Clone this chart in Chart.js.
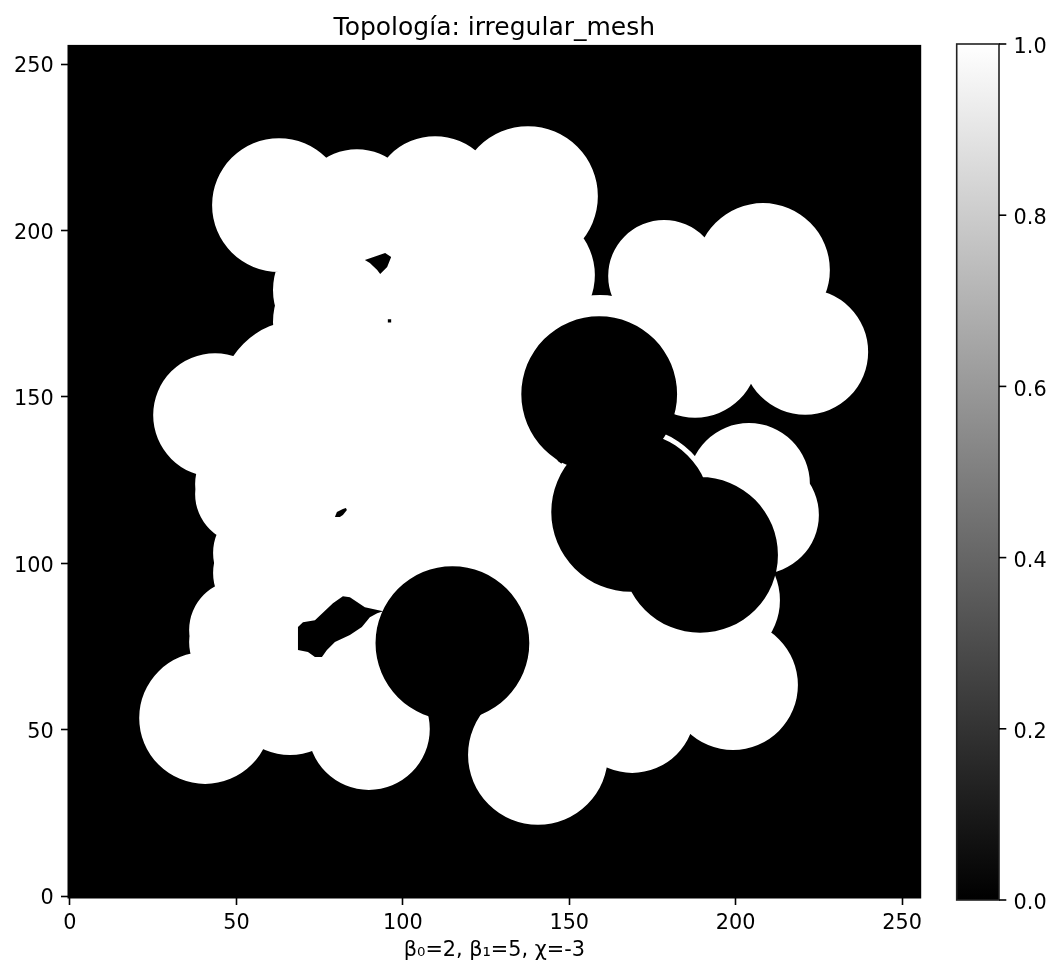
<!DOCTYPE html>
<html>
<head>
<meta charset="utf-8">
<script src="https://cdn.jsdelivr.net/npm/chart.js@4.4.1/dist/chart.umd.min.js"></script>
<style>
html,body{margin:0;padding:0;background:#fff;}
#wrap{width:1062px;height:975px;position:relative;}
canvas{display:block;}
</style>
</head>
<body>
<div id="wrap"><canvas id="c" width="1062" height="975"></canvas></div>
<script>
// ---------- text ----------
const TITLE = 'Topología: irregular_mesh';
const X_LABEL = 'β₀=2, β₁=5, χ=-3';

// ---------- tick labels ----------
const X_TICKS = [0, 50, 100, 150, 200, 250];
const Y_TICKS = [0, 50, 100, 150, 200, 250];
const CB_TICKS = [0.0, 0.2, 0.4, 0.6, 0.8, 1.0];
const IMG_MIN = -0.5;
const IMG_MAX = 255.5;

// ---------- white disks (value 1.0): centre x, centre y, radius (in image pixels) ----------
const WHITE_X = [62.8, 86.2, 109.7, 137.6, 138.2, 81.1, 82.6, 69.1, 43.6, 52.6, 52.6, 58.0, 58.0, 50.8, 50.8,
                 40.6, 66.1, 89.8, 140.6, 168.9, 199.2, 193.8, 168.6, 204.0, 207.3, 178.5, 208.2, 220.9, 187.8, 159.3,
                 105.2, 117.2, 99.2, 135.2, 135.2, 78.1,
                 78.1, 99.2, 123.2, 75.1, 87.1, 147.2, 72.1, 129.2, 111.2, 57.1, 55.6, 147.2, 168.3];
const WHITE_Y = [207.6, 206.4, 209.1, 210.3, 186.6, 182.1, 172.5, 149.0, 144.5, 123.8, 120.8, 103.1, 97.1, 79.9, 76.3,
                 53.5, 61.9, 50.2, 42.4, 55.9, 63.4, 88.9, 115.4, 123.8, 114.5, 186.3, 188.1, 163.5, 162.6, 158.1,
                 179.1, 143.0, 113.0, 113.0, 76.9, 88.9,
                 140.0, 134.0, 170.1, 107.0, 73.9, 64.9, 182.1, 119.0, 113.0, 131.0, 90.4, 91.9, 79.9];
const WHITE_R = [20.1, 18.0, 19.2, 21.0, 19.5, 20.1, 21.6, 24.0, 18.6, 15.0, 15.0, 15.0, 15.0, 15.0, 15.0,
                 19.8, 19.5, 18.3, 21.0, 18.9, 19.5, 19.5, 25.5, 18.3, 17.7, 16.8, 20.1, 18.9, 18.9, 22.5,
                 27.0, 30.0, 27.0, 21.0, 21.0, 21.0,
                 27.0, 27.0, 24.0, 18.0, 12.0, 13.5, 10.5, 21.0, 18.0, 15.0, 10.5, 14.4, 16.5];

// ---------- black disks (value 0.0) cut out of the white ----------
const BLACK_X = [159.0, 168.6, 189.3, 114.9];
const BLACK_Y = [150.8, 115.4, 102.5, 76.0];
const BLACK_R = [23.4, 24.0, 23.4, 23.1];

// ---------- small enclosed holes (value 0.0) ----------
const HOLE1_X = [88.6, 94.7, 96.5, 95.3, 93.2, 92.3, 90.1];
const HOLE1_Y = [191.1, 193.2, 192.0, 189.0, 186.9, 188.1, 190.2];
const HOLE2_X = [95.5, 96.5, 96.5, 95.5];
const HOLE2_Y = [172.3, 172.3, 173.3, 173.3];
const HOLE3_X = [80.2, 82.0, 82.9, 83.2, 82.0, 81.1, 79.6];
const HOLE3_Y = [115.4, 116.3, 116.6, 116.0, 114.5, 113.9, 113.9];
const HOLE4_X = [68.5, 70.0, 73.6, 79.0, 82.0, 84.1, 88.6, 94.1, 92.3, 90.1, 87.7, 84.1, 79.6, 77.2, 75.7, 73.6, 71.5, 68.5];
const HOLE4_Y = [80.8, 82.3, 82.9, 88.0, 90.1, 89.8, 86.8, 85.6, 85.0, 83.8, 80.8, 78.4, 76.3, 73.9, 71.8, 71.8, 73.3, 73.9];
const HOLES = [[HOLE1_X, HOLE1_Y], [HOLE2_X, HOLE2_Y], [HOLE3_X, HOLE3_Y], [HOLE4_X, HOLE4_Y]];

// ---------- layout (not data) ----------
const W = 1062, H = 975;
const AREA = {left: 68.3, right: 920.4, top: 45.7, bottom: 897.7};
const CBAR = {left: 956.7, right: 999, top: 44, bottom: 900};
const FONT = 'DejaVu Sans';
const TICK_SIZE = 20.8;
const SPINE = 1.6;
const TICK_LEN = 7.3;

const imagePlugin = {
  id: 'binaryImage',
  beforeDatasetsDraw(chart) {
    const {ctx, scales: {x, y}} = chart;
    const l = x.getPixelForValue(IMG_MIN), r = x.getPixelForValue(IMG_MAX);
    const t = y.getPixelForValue(IMG_MAX), b = y.getPixelForValue(IMG_MIN);
    const ppu = Math.abs(x.getPixelForValue(1) - x.getPixelForValue(0));
    ctx.save();
    ctx.beginPath();
    ctx.rect(l, t, r - l, b - t);
    ctx.clip();
    ctx.fillStyle = '#000000';
    ctx.fillRect(l, t, r - l, b - t);
    // white disks = 1 (one path so the union has no seams)
    ctx.fillStyle = '#ffffff';
    ctx.beginPath();
    WHITE_X.forEach((cx, i) => {
      const px = x.getPixelForValue(cx), py = y.getPixelForValue(WHITE_Y[i]);
      ctx.moveTo(px + WHITE_R[i] * ppu, py);
      ctx.arc(px, py, WHITE_R[i] * ppu, 0, Math.PI * 2);
    });
    ctx.fill('nonzero');
    // black disks = 0
    ctx.fillStyle = '#000000';
    ctx.beginPath();
    BLACK_X.forEach((cx, i) => {
      const px = x.getPixelForValue(cx), py = y.getPixelForValue(BLACK_Y[i]);
      ctx.moveTo(px + BLACK_R[i] * ppu, py);
      ctx.arc(px, py, BLACK_R[i] * ppu, 0, Math.PI * 2);
    });
    ctx.fill('nonzero');
    // small holes = 0
    for (const [hx, hy] of HOLES) {
      ctx.beginPath();
      hx.forEach((v, i) => {
        const px = x.getPixelForValue(v), py = y.getPixelForValue(hy[i]);
        if (i === 0) ctx.moveTo(px, py); else ctx.lineTo(px, py);
      });
      ctx.closePath();
      ctx.fill();
    }
    ctx.restore();
  }
};

const frameAndColorbar = {
  id: 'frameAndColorbar',
  afterDraw(chart) {
    const {ctx, chartArea: a} = chart;
    ctx.save();
    ctx.strokeStyle = '#000';
    ctx.lineWidth = SPINE;
    ctx.strokeRect(a.left, a.top, a.right - a.left, a.bottom - a.top);

    const g = ctx.createLinearGradient(0, CBAR.bottom, 0, CBAR.top);
    g.addColorStop(0, '#000000');
    g.addColorStop(1, '#ffffff');
    ctx.fillStyle = g;
    ctx.fillRect(CBAR.left, CBAR.top, CBAR.right - CBAR.left, CBAR.bottom - CBAR.top);
    ctx.strokeStyle = '#222';
    ctx.lineWidth = SPINE;
    ctx.strokeRect(CBAR.left, CBAR.top, CBAR.right - CBAR.left, CBAR.bottom - CBAR.top);

    ctx.fillStyle = '#000';
    ctx.strokeStyle = '#000';
    ctx.font = TICK_SIZE + 'px "' + FONT + '"';
    ctx.textAlign = 'left';
    ctx.textBaseline = 'alphabetic';
    for (const v of CB_TICKS) {
      const py = CBAR.bottom - v * (CBAR.bottom - CBAR.top);
      ctx.beginPath();
      ctx.moveTo(CBAR.right, py);
      ctx.lineTo(CBAR.right + TICK_LEN, py);
      ctx.stroke();
      ctx.fillText(v.toFixed(1), CBAR.right + TICK_LEN + 7.3, py + 9.2);
    }
    ctx.restore();
  }
};

const tickFont = {family: FONT, size: TICK_SIZE};

new Chart(document.getElementById('c').getContext('2d'), {
  type: 'scatter',
  data: {datasets: []},
  options: {
    responsive: false,
    animation: false,
    devicePixelRatio: 1,
    events: [],
    layout: {padding: {left: 0, top: 0, right: W - AREA.right, bottom: 0}},
    plugins: {
      legend: {display: false},
      tooltip: {enabled: false},
      title: {
        display: true,
        text: TITLE,
        fullSize: false,
        color: '#000',
        font: {family: FONT, size: 25, weight: 'normal', lineHeight: 1.2},
        padding: {top: 13.4, bottom: 2.3}
      }
    },
    scales: {
      x: {
        type: 'linear',
        min: IMG_MIN,
        max: IMG_MAX,
        afterBuildTicks: (s) => { s.ticks = X_TICKS.map(v => ({value: v})); },
        afterFit: (s) => { s.height = H - AREA.bottom; },
        ticks: {font: tickFont, color: '#000', padding: 6.5, maxRotation: 0, autoSkip: false,
                callback: (v) => String(v)},
        grid: {display: true, drawOnChartArea: false, drawTicks: true, tickLength: TICK_LEN,
               tickWidth: SPINE, tickColor: '#000'},
        border: {display: false},
        title: {display: true, text: X_LABEL, color: '#000',
                font: {family: FONT, size: TICK_SIZE, lineHeight: 1.2},
                padding: {top: 0, bottom: 12.4}}
      },
      y: {
        type: 'linear',
        min: IMG_MIN,
        max: IMG_MAX,
        afterBuildTicks: (s) => { s.ticks = Y_TICKS.map(v => ({value: v})); },
        afterFit: (s) => { s.width = AREA.left; },
        ticks: {font: tickFont, color: '#000', padding: 7.3, labelOffset: 3, autoSkip: false,
                callback: (v) => String(v)},
        grid: {display: true, drawOnChartArea: false, drawTicks: true, tickLength: TICK_LEN,
               tickWidth: SPINE, tickColor: '#000'},
        border: {display: false}
      }
    }
  },
  plugins: [imagePlugin, frameAndColorbar]
});
</script>
</body>
</html>
